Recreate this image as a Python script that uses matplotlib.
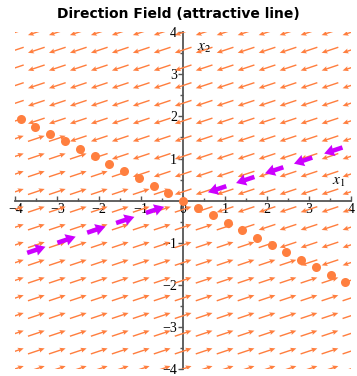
import numpy as np
import matplotlib
matplotlib.use("Agg")
import matplotlib.pyplot as plt

# System matrix: x' = A x  (eigenvalue 0 along (2,-1), -5 along (3,1))
A = [[-3.0, -6.0], [-1.0, -2.0]]

# Line of equilibria (orange dots)
dots_x1 = [-3.87, -3.52, -3.17, -2.82, -2.46, -2.11, -1.76, -1.41, -1.06, -0.70, -0.35, 0.0,
           0.35, 0.70, 1.06, 1.41, 1.76, 2.11, 2.46, 2.82, 3.17, 3.52, 3.87]
dots_x2 = [1.94, 1.76, 1.59, 1.41, 1.23, 1.06, 0.88, 0.71, 0.53, 0.35, 0.18, 0.0,
           -0.18, -0.35, -0.53, -0.71, -0.88, -1.06, -1.23, -1.41, -1.59, -1.76, -1.94]

# Purple arrows along eigenline (3,1), pointing toward origin
purple_x1 = [-3.50, -2.78, -2.07, -1.38, -0.67, 0.81, 1.48, 2.17, 2.86, 3.58]
purple_x2 = [-1.17, -0.93, -0.69, -0.46, -0.22, 0.27, 0.49, 0.72, 0.95, 1.19]

xticks = [-4, -3, -2, -1, 0, 1, 2, 3, 4]
yticks = [-4, -3, -2, -1, 1, 2, 3, 4]
xticklabels = ["\u22124", "\u22123", "\u22122", "\u22121", "0", "1", "2", "3", "4"]
yticklabels = ["\u22124", "\u22123", "\u22122", "\u22121", "1", "2", "3", "4"]

ORANGE = "#ff7f3f"
PURPLE = "#cc00ff"
AXC = "#555555"

fig = plt.figure(figsize=(3.57, 3.76), dpi=100)
ax = fig.add_axes([0.043, 0.019, 0.940, 0.895])
ax.set_xlim(-4, 4)
ax.set_ylim(-4, 4)

# direction field grid
gx = np.linspace(-4, 4, 17)
gy = np.linspace(-4, 4, 20)
X, Y = np.meshgrid(gx, gy)
U = A[0][0] * X + A[0][1] * Y
V = A[1][0] * X + A[1][1] * Y
N = np.hypot(U, V)
N[N == 0] = 1
L = 0.42
ax.quiver(X, Y, U / N * L, V / N * L, angles='xy', scale_units='xy', scale=1,
          pivot='middle', color=ORANGE, width=0.0042, headwidth=3.6, headlength=4.2,
          headaxislength=3.6, zorder=2)

# line of equilibria
ax.plot(dots_x1, dots_x2, 'o', color=ORANGE, markersize=6.5, markeredgewidth=0, zorder=3)

# purple arrows
px = np.array(purple_x1)
py = np.array(purple_x2)
pu = A[0][0] * px + A[0][1] * py
pv = A[1][0] * px + A[1][1] * py
pn = np.hypot(pu, pv)
PL = 0.46
ax.quiver(px, py, pu / pn * PL, pv / pn * PL, angles='xy', scale_units='xy', scale=1,
          pivot='middle', color=PURPLE, width=0.0135, headwidth=2.6, headlength=2.2,
          headaxislength=2.1, zorder=4)

# axes through origin
for s in ['top', 'right']:
    ax.spines[s].set_visible(False)
ax.spines['left'].set_position(('data', 0))
ax.spines['bottom'].set_position(('data', 0))
for s in ['left', 'bottom']:
    ax.spines[s].set_color(AXC)
    ax.spines[s].set_linewidth(1.3)
    ax.spines[s].set_zorder(1)

ax.set_xticks(xticks)
ax.set_xticklabels(xticklabels, fontsize=10)
ax.set_yticks(yticks)
ax.set_yticklabels(yticklabels, fontsize=10)
ax.set_xticks(np.arange(-3.5, 4, 1.0), minor=True)
ax.set_yticks(np.arange(-3.5, 4, 1.0), minor=True)
ax.tick_params(axis='x', which='both', direction='in', colors=AXC, labelcolor='black', pad=2)
ax.tick_params(axis='y', which='both', direction='out', colors=AXC, labelcolor='black', pad=1)
ax.tick_params(which='major', length=3.5, width=1)
ax.tick_params(which='minor', length=2, width=1)
for lab in ax.get_xticklabels():
    lab.set_fontfamily('Liberation Serif')
for lab in ax.get_yticklabels():
    lab.set_fontfamily('Liberation Serif')

plt.rcParams['mathtext.fontset'] = 'stix'
ax.text(3.7, 0.45, r'$x_1$', fontsize=11, ha='center', va='center', zorder=5)
ax.text(0.5, 3.65, r'$x_2$', fontsize=11, ha='center', va='center', zorder=5)

fig.text(0.5, 0.962, 'Direction Field (attractive line)', ha='center', va='center',
         fontsize=10, fontweight='bold', family='DejaVu Sans')

fig.savefig('out.png', dpi=100)
